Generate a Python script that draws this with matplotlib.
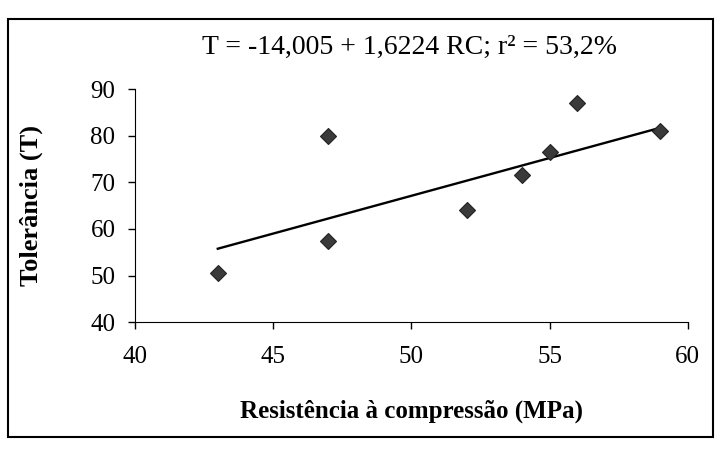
import matplotlib
matplotlib.use("Agg")
import matplotlib.pyplot as plt
from matplotlib.patches import Rectangle
import numpy as np

# dados
resistencia = [43, 47, 47, 52, 54, 55, 56, 59]
tolerancia = [50.5, 80, 57.5, 64, 71.5, 76.5, 87, 81]
intercepto = -14.005
inclinacao = 1.6224
xticks = [40, 45, 50, 55, 60]
yticks = [40, 50, 60, 70, 80, 90]

plt.rcParams['font.family'] = ['Liberation Serif', 'DejaVu Serif']

fig = plt.figure(figsize=(7.21, 4.55), dpi=100)
ax = fig.add_axes([0.187, 0.292, 0.767, 0.512])

# reta de regressão entre o menor e o maior valor de x
xr = np.array([min(resistencia), max(resistencia)])
ax.plot(xr, intercepto + inclinacao * xr, color='black', lw=1.7)
ax.plot(resistencia, tolerancia, 'D', color='#3a3a3a', markersize=8.5,
        markeredgecolor='#222222', markeredgewidth=0.8)

ax.set_xlim(40, 60)
ax.set_ylim(40, 90)
ax.set_xticks(xticks)
ax.set_yticks(yticks)
ax.spines['top'].set_visible(False)
ax.spines['right'].set_visible(False)
ax.tick_params(direction='out', length=5, width=1, labelsize=18, colors='black')
ax.tick_params(axis='x', pad=12)
ax.tick_params(axis='y', pad=9)

ax.set_xlabel('Resistência à compressão (MPa)', fontsize=18, fontweight='bold', labelpad=23)
ax.set_ylabel('Tolerância (T)', fontsize=19, fontweight='bold', labelpad=34)

fig.text(0.568, 0.895, 'T = -14,005 + 1,6224 RC; r² = 53,2%', ha='center', va='center', fontsize=20)

# moldura externa
fig.patches.append(Rectangle((0.011, 0.04), 0.978, 0.918, transform=fig.transFigure,
                             fill=False, edgecolor='black', lw=1.5))

fig.savefig('out.png', dpi=100)
